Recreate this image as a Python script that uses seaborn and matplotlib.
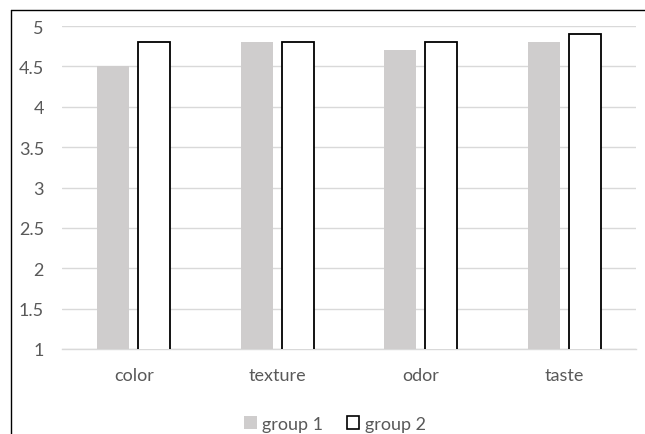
import matplotlib
matplotlib.use("Agg")
import matplotlib.pyplot as plt
from matplotlib.lines import Line2D
from matplotlib.patches import Patch
import seaborn as sns
import pandas as pd

categories = ["color", "texture", "odor", "taste"]
group1 = [4.5, 4.8, 4.7, 4.8]
group2 = [4.8, 4.8, 4.8, 4.9]
series = ["group 1", "group 2"]
yticks = [1, 1.5, 2, 2.5, 3, 3.5, 4, 4.5, 5]

df = pd.DataFrame({
    "attribute": categories * 2,
    "score": group1 + group2,
    "group": [series[0]] * len(categories) + [series[1]] * len(categories),
})

sns.set_style("white")
plt.rcParams["font.family"] = ["Lato", "DejaVu Sans"]

fig = plt.figure(figsize=(6.45, 4.35), dpi=100)
ax = fig.add_axes([62 / 645, 1 - 350 / 435, (636 - 62) / 645, (350 - 27) / 435])

gray = "#cfcdcd"
sns.barplot(data=df, x="attribute", y="score", hue="group", order=categories,
            hue_order=series, palette=[gray, "white"], width=0.566, gap=0.21,
            ax=ax, legend=False, zorder=3)

# outline the second series only
for bar in ax.patches[len(categories):]:
    bar.set_edgecolor("black")
    bar.set_linewidth(1.3)
for bar in ax.patches[:len(categories)]:
    bar.set_edgecolor("none")

ax.set_ylim(1, 5)
ax.set_yticks(yticks)
ax.set_yticklabels([f"{t:g}" for t in yticks])
ax.set_xlim(-0.5, len(categories) - 0.5)
ax.yaxis.grid(True, color="#d9d9d9", linewidth=1, zorder=0)
ax.set_axisbelow(True)
for side in ["top", "right", "left"]:
    ax.spines[side].set_visible(False)
ax.spines["bottom"].set_color("#d9d9d9")
ax.spines["bottom"].set_linewidth(1)
ax.tick_params(axis="both", length=0, labelsize=13, labelcolor="#595959")
ax.tick_params(axis="x", pad=13)
ax.tick_params(axis="y", pad=13)
ax.set_xlabel("")
ax.set_ylabel("")

handles = [Patch(facecolor=gray, edgecolor="none"),
           Patch(facecolor="white", edgecolor="black", linewidth=1.2)]
fig.legend(handles, series, loc="center", bbox_to_anchor=(335 / 645, 1 - 425 / 435),
           ncol=2, frameon=False, fontsize=13, labelcolor="#595959",
           handlelength=0.7, handleheight=0.7, handletextpad=0.3, columnspacing=1.3)

# chart border
fig.add_artist(Line2D([10.5 / 645, 1], [1 - 10.5 / 435, 1 - 10.5 / 435],
                      transform=fig.transFigure, color="black", linewidth=1.0))
fig.add_artist(Line2D([10.5 / 645, 10.5 / 645], [0, 1 - 10.5 / 435],
                      transform=fig.transFigure, color="black", linewidth=1.0))

fig.savefig("out.png", dpi=100, facecolor="white")
